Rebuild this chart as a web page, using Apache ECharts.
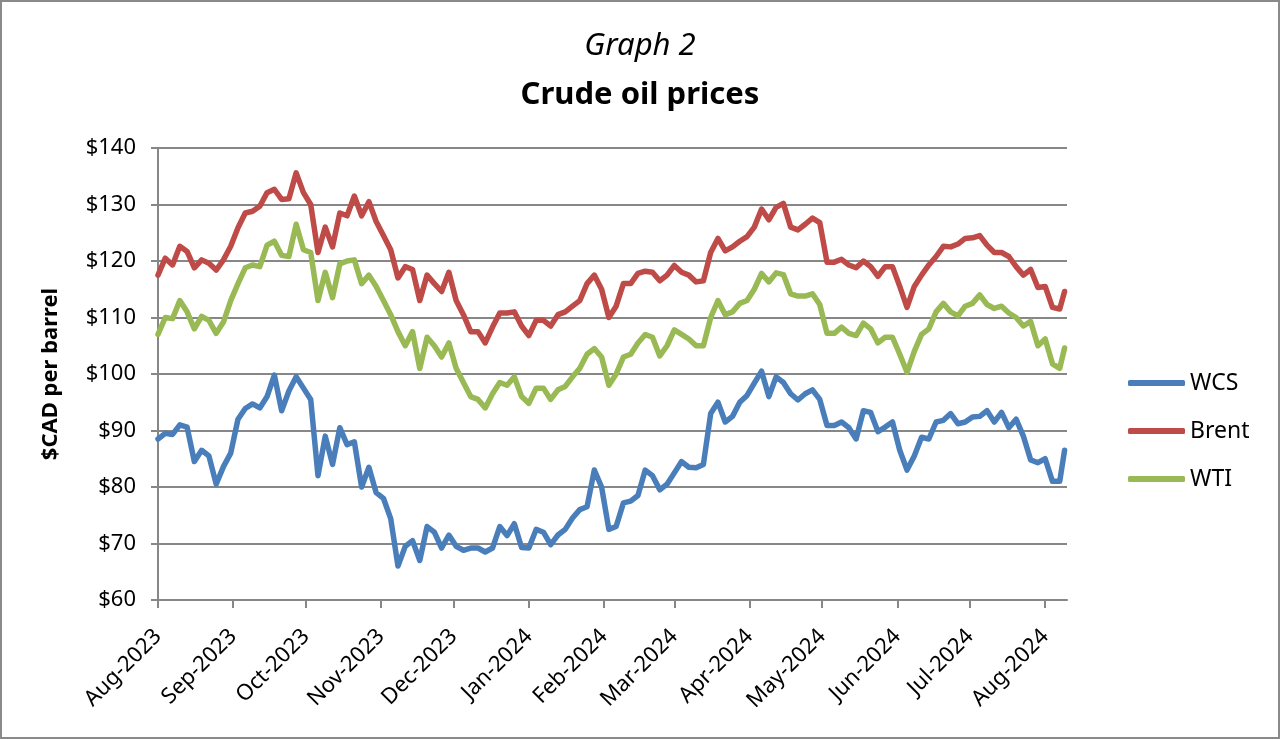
<!DOCTYPE html>
<html lang="en">
  <head>
    <meta charset="UTF-8" />
    <title>Crude oil prices</title>
    <script src="https://cdn.jsdelivr.net/npm/echarts@6.0.0/dist/echarts.min.js"></script>
    <style>
      html, body { margin: 0; padding: 0; background: #fff; }
      #frame { width: 1280px; height: 739px; box-sizing: border-box; border: 2px solid #8a8a8a; }
      #chart { width: 1276px; height: 735px; }
    </style>
  </head>
  <body>
    <div id="frame"><div id="chart"></div></div>
    <script>
      // sampling grid: every 3 days from 2023-08-01, last point 2024-08-09
      var startDate = '2023-08-01'
      var stepDays = 3
      var lastDate = '2024-08-09'

      var wcs = [
        88.5, 89.5, 89.3, 91, 90.6, 84.5, 86.5, 85.5, 80.5, 83.6, 86, 92, 93.9, 94.7, 94, 96, 99.8, 93.5, 97, 99.5, 97.5,
        95.5, 82, 89, 84, 90.5, 87.5, 88, 80, 83.5, 79, 78, 74.4, 66, 69.5, 70.5, 67, 73, 72, 69.2, 71.5, 69.5,
        68.8, 69.2, 69.2, 68.5, 69.2, 73, 71.4, 73.5, 69.3, 69.2, 72.5, 72, 69.8, 71.5, 72.5, 74.5, 76, 76.5, 83, 80, 72.5,
        73, 77.2, 77.5, 78.5, 83, 82, 79.5, 80.5, 82.5, 84.5, 83.5, 83.4, 84, 93, 95, 91.5, 92.5, 95, 96.2, 98.4,
        100.5, 96, 99.5, 98.5, 96.5, 95.4, 96.5, 97.2, 95.5, 90.9, 90.9, 91.5, 90.5, 88.5, 93.5, 93.2, 89.8, 90.6, 91.5, 86.5, 83,
        85.5, 88.8, 88.5, 91.5, 91.8, 93, 91.2, 91.5, 92.4, 92.5, 93.5, 91.5, 93.2, 90.5, 92, 89, 84.8, 84.3, 85, 81, 81, 86.5
      ]
      var brent = [
        117.5, 120.5, 119.3, 122.6, 121.7, 118.8, 120.2, 119.6, 118.4, 120.2, 122.6, 125.9, 128.5, 128.8, 129.7, 132.1, 132.7, 130.9, 131, 135.6, 132.1,
        130, 121.5, 126, 122.5, 128.5, 128, 131.5, 128, 130.5, 127, 124.5, 122, 117, 119, 118.5, 113, 117.5, 116, 114.6, 118, 113,
        110.5, 107.5, 107.5, 105.5, 108.3, 110.8, 110.8, 111, 108.5, 106.8, 109.5, 109.5, 108.5, 110.5, 111, 112, 113, 116, 117.5, 115, 110,
        112, 116, 116, 117.8, 118.2, 118, 116.5, 117.5, 119.2, 118, 117.5, 116.3, 116.5, 121.5, 124, 121.8, 122.5, 123.5, 124.3, 126,
        129.2, 127.3, 129.5, 130.2, 126, 125.5, 126.5, 127.6, 126.8, 119.8, 119.8, 120.3, 119.3, 118.8, 120, 119, 117.3, 119, 119, 115.5, 111.8,
        115.5, 117.5, 119.3, 120.8, 122.6, 122.5, 123, 124, 124.1, 124.5, 122.8, 121.5, 121.5, 120.8, 119, 117.5, 118.5, 115.3, 115.5, 111.8, 111.5, 114.6
      ]
      var wti = [
        107, 110, 109.8, 113, 111, 108, 110.2, 109.5, 107.2, 109.2, 113, 116, 118.8, 119.3, 119, 122.8, 123.5, 121, 120.8, 126.5, 122,
        121.5, 113, 118, 113.5, 119.5, 120, 120.2, 116, 117.5, 115.5, 113, 110.5, 107.5, 105, 107.5, 101, 106.5, 105, 103, 105.5, 101,
        98.5, 96, 95.5, 94, 96.5, 98.5, 98, 99.5, 96, 94.8, 97.5, 97.5, 95.5, 97.2, 97.8, 99.5, 101, 103.5, 104.5, 103, 98,
        100, 103, 103.5, 105.5, 107, 106.5, 103.2, 105, 107.8, 107, 106.2, 105, 105, 110, 113, 110.5, 111, 112.5, 113, 115,
        117.8, 116.3, 117.9, 117.6, 114.2, 113.8, 113.8, 114.2, 112.3, 107.2, 107.2, 108.3, 107.2, 106.8, 109, 108, 105.5, 106.5, 106.5, 103.5, 100.3,
        104, 107, 108, 111, 112.5, 111, 110.3, 112, 112.5, 114, 112.3, 111.6, 112, 110.8, 110, 108.5, 109.3, 105, 106.2, 101.8, 101, 104.6
      ]
      var seriesNames = ['WCS', 'Brent', 'WTI']
      var seriesColors = ['#4a7ebb', '#be4b48', '#98b954']
      var monthNames = ['Jan', 'Feb', 'Mar', 'Apr', 'May', 'Jun', 'Jul', 'Aug', 'Sep', 'Oct', 'Nov', 'Dec']

      var dayMs = 24 * 3600 * 1000
      var t0 = new Date(startDate + 'T00:00:00Z').getTime()
      var dates = []
      for (var i = 0; i < wcs.length - 1; i++) dates.push(t0 + i * stepDays * dayMs)
      dates.push(new Date(lastDate + 'T00:00:00Z').getTime())

      // month starts for ticks and labels
      var monthTicks = []
      for (var m = 0; m <= 12; m++) monthTicks.push(Date.UTC(2023, 7 + m, 1))

      function pairs(vals) {
        return vals.map(function (v, i) { return [dates[i], v] })
      }

      var font = '"Noto Sans", "Open Sans", sans-serif'
      var grey = '#878787'
      var chart = echarts.init(document.getElementById('chart'))
      chart.setOption({
        animation: false,
        textStyle: { fontFamily: font },
        title: [
          { text: 'Graph 2', left: 'center', top: 24,
            textStyle: { fontSize: 31, fontStyle: 'italic', fontWeight: 'normal', color: '#000', fontFamily: font } },
          { text: 'Crude oil prices', left: 'center', top: 73,
            textStyle: { fontSize: 31, fontWeight: 'bold', color: '#000', fontFamily: font } }
        ],
        legend: {
          orient: 'vertical',
          left: 1121,
          top: 362,
          itemGap: 20,
          itemWidth: 57,
          itemHeight: 6,
          icon: 'roundRect',
          textStyle: { fontSize: 23, color: '#000', lineHeight: 28, fontFamily: font },
          data: seriesNames
        },
        grid: { left: 156, right: 211, top: 146, bottom: 137, containLabel: false },
        xAxis: {
          type: 'value',
          min: t0,
          max: new Date('2024-08-10T00:00:00Z').getTime(),
          splitLine: { show: false },
          axisLine: { lineStyle: { color: grey, width: 2 } },
          axisTick: { show: true, customValues: monthTicks, length: 8, lineStyle: { color: grey, width: 2 } },
          axisLabel: {
            customValues: monthTicks,
            rotate: 45,
            margin: 33,
            fontSize: 22,
            color: '#000',
            fontFamily: font,
            formatter: function (v) {
              var d = new Date(v)
              return monthNames[d.getUTCMonth()] + '-' + d.getUTCFullYear()
            }
          }
        },
        yAxis: {
          type: 'value',
          min: 60,
          max: 140,
          interval: 10,
          name: '$CAD per barrel',
          nameLocation: 'middle',
          nameGap: 96,
          nameTextStyle: { fontSize: 22, fontWeight: 'bold', color: '#000', fontFamily: font },
          axisLine: { show: true, lineStyle: { color: grey, width: 2 } },
          axisTick: { show: true, length: 7, lineStyle: { color: grey, width: 2 } },
          splitLine: { lineStyle: { color: grey, width: 2 } },
          axisLabel: {
            fontSize: 22,
            color: '#000',
            margin: 22,
            fontFamily: font,
            formatter: function (v) { return '$' + v }
          }
        },
        series: [
          { name: 'WCS', type: 'line', data: pairs(wcs) },
          { name: 'Brent', type: 'line', data: pairs(brent) },
          { name: 'WTI', type: 'line', data: pairs(wti) }
        ].map(function (s, i) {
          s.showSymbol = false
          s.symbol = 'none'
          s.color = seriesColors[i]
          s.lineStyle = { width: 5.5, color: seriesColors[i], join: 'round', cap: 'round' }
          return s
        })
      })
    </script>
  </body>
</html>
